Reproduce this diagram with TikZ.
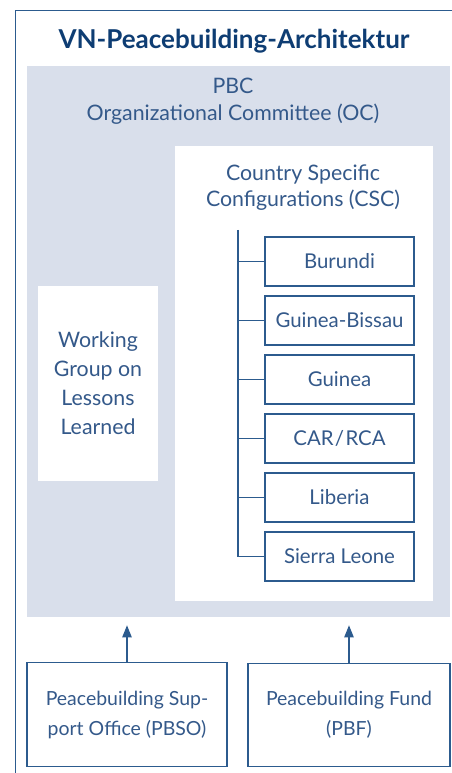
\documentclass[tikz,border=0pt]{standalone}
\usepackage{fontspec}
\setmainfont{Lato}
\usetikzlibrary{arrows.meta}
\definecolor{titleblue}{HTML}{0E3D73}
\definecolor{textblue}{HTML}{34598A}
\definecolor{lineblue}{HTML}{2C5B8E}
\definecolor{panelgrey}{HTML}{D9DFEB}
\tikzset{
  boxtext/.style={text=textblue,font=\fontsize{16}{20.25}\selectfont,align=center,inner sep=0pt},
  countrybox/.style={boxtext,draw=lineblue,line width=0.9pt,fill=white,minimum width=111.75pt,minimum height=36.75pt,font=\fontsize{15.3}{18}\selectfont},
  lowerbox/.style={boxtext,draw=lineblue,line width=0.9pt,fill=white,minimum height=77.5pt,font=\fontsize{14.6}{22.5}\selectfont},
  feeds/.style={draw=lineblue,line width=0.9pt,-{Triangle[length=9pt,width=7pt]},shorten >=6pt}
}
\begin{document}
\begin{tikzpicture}[x=0.75pt,y=-0.75pt]
\useasboundingbox (0,0) rectangle (452,773);

%Outer frame (open to the right and bottom)
\draw [lineblue,line width=1.2pt] (15.5,773) -- (15.5,10.5) -- (452,10.5) ;

% Title
\node (title) at (234,41) [text=titleblue,font=\bfseries\fontsize{19.5}{22}\selectfont] {VN-Peacebuilding-Architektur};

%Shape: Panel
\node (pbc) at (238.5,341.5) [fill=panelgrey,minimum width=317.25pt,minimum height=413.25pt,inner sep=0pt] {};
\node (pbctext) at (233,101.5) [boxtext] {PBC\\Organizational Committee (OC)};

%Shape: CSC box
\node (csc) at (304,373.5) [fill=white,minimum width=193.5pt,minimum height=341.25pt,inner sep=0pt] {};
\node (csctext) at (303,188) [boxtext,font=\fontsize{16}{19.5}\selectfont] {Country Specific\\Configurations (CSC)};

%Shape: Working group box
\node (wg) at (98,383.5) [boxtext,fill=white,minimum width=90pt,minimum height=146.25pt,font=\fontsize{16}{21.75}\selectfont] {Working\\Group on\\Lessons\\Learned};

% Country boxes
\node (burundi) at (339.5,261.5) [countrybox] {Burundi};
\node (bissau)  at (339.5,320.5) [countrybox] {Guinea-Bissau};
\node (guinea)  at (339.5,379.5) [countrybox] {Guinea};
\node (car)     at (339.5,438.5) [countrybox] {CAR\kern1pt/\kern1ptRCA};
\node (liberia) at (339.5,497.5) [countrybox] {Liberia};
\node (sierra)  at (339.5,556.5) [countrybox] {Sierra Leone};

%Straight Lines
\coordinate (trunk) at (238,230);
\draw [lineblue,line width=0.9pt] (trunk) |- (sierra.west) ;
\foreach \c in {burundi,bissau,guinea,car,liberia}
  \draw [lineblue,line width=0.9pt] (trunk |- \c.west) -- (\c.west) ;

% Lower boxes
\node (pbso) at (127,714.5) [lowerbox,minimum width=150pt] {Peacebuilding Sup-\\port Office (PBSO)};
\node (pbf)  at (349,715)   [lowerbox,minimum width=151.5pt] {Peacebuilding Fund\\(PBF)};

% Arrows
\draw [feeds] (pbso.north) -- (pbso.north |- pbc.south) ;
\draw [feeds] (pbf.north) -- (pbf.north |- pbc.south) ;

\end{tikzpicture}
\end{document}
